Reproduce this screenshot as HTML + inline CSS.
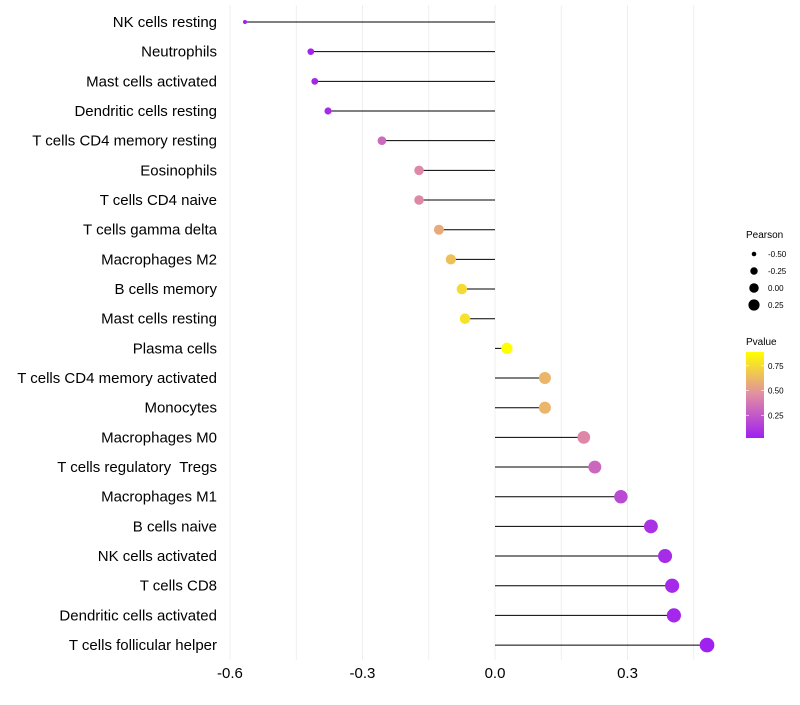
<!DOCTYPE html>
<html><head><meta charset="utf-8"><style>
body{margin:0;background:#fff;font-family:"Liberation Sans",sans-serif}
text{white-space:pre}
</style></head><body>
<svg id="c" width="800" height="700" xmlns="http://www.w3.org/2000/svg"></svg>
<script>
const categories=["NK cells resting","Neutrophils","Mast cells activated","Dendritic cells resting","T cells CD4 memory resting","Eosinophils","T cells CD4 naive","T cells gamma delta","Macrophages M2","B cells memory","Mast cells resting","Plasma cells","T cells CD4 memory activated","Monocytes","Macrophages M0","T cells regulatory  Tregs","Macrophages M1","B cells naive","NK cells activated","T cells CD8","Dendritic cells activated","T cells follicular helper"];
const pearson=[-0.566,-0.417,-0.408,-0.378,-0.256,-0.172,-0.172,-0.127,-0.100,-0.075,-0.068,0.027,0.113,0.113,0.201,0.226,0.285,0.353,0.385,0.401,0.405,0.480];
const pvalue=[0.02,0.05,0.06,0.08,0.33,0.45,0.45,0.58,0.66,0.76,0.79,0.9,0.62,0.62,0.45,0.32,0.2,0.1,0.08,0.07,0.06,0.03];
const xTicks=[-0.6,-0.3,0.0,0.3];
const xTickLabels=["-0.6","-0.3","0.0","0.3"];
const sizeLegend=[-0.5,-0.25,0,0.25];
const sizeLegendLabels=["-0.50","-0.25","0.00","0.25"];
const colorLegend=[0.75,0.5,0.25];
const colorLegendLabels=["0.75","0.50","0.25"];

const svg=document.getElementById('c');
const NS="http://www.w3.org/2000/svg";
function mk(t,a,p){const e=document.createElementNS(NS,t);for(const k in a)e.setAttribute(k,a[k]);(p||svg).appendChild(e);return e;}
const x=v=>495+v*441.7;
const y=i=>22+i*29.67;
const rad=v=>Math.sqrt(4+(v+0.566)/1.046*50);
function lerp(a,b,t){return a.map((c,i)=>Math.round(c+(b[i]-c)*t));}
function col(p){const t=Math.max(0,Math.min(1,(p-0.03)/0.87));
 const s=[[160,32,240],[224,140,165],[255,255,0]];
 const c=t<0.5?lerp(s[0],s[1],t*2):lerp(s[1],s[2],(t-0.5)*2);return `rgb(${c})`;}

[-0.6,-0.45,-0.3,-0.15,0,0.15,0.3,0.45].forEach(v=>{
 const g=mk('line',{x1:x(v),x2:x(v),y1:5,y2:660,stroke:'#ebebeb','stroke-width':0.8});
 
 
});
xTicks.forEach((v,i)=>{
 const t=mk('text',{x:x(v),y:678,'text-anchor':'middle','font-size':15,fill:'#000'});
 t.textContent=xTickLabels[i];
 
 
});
categories.forEach((c,i)=>{
 const t=mk('text',{x:217,y:y(i)+5,'text-anchor':'end','font-size':15,fill:'#000'});
 t.textContent=c;
 
 
 const l=mk('line',{x1:x(0),x2:x(pearson[i]),y1:y(i),y2:y(i),stroke:'#000','stroke-width':1});
 
 
 const d=mk('circle',{cx:x(pearson[i]),cy:y(i),r:rad(pearson[i]),fill:col(pvalue[i])});
 
 
});
const lt=mk('text',{x:746,y:238,'font-size':10});lt.textContent='Pearson';


sizeLegend.forEach((v,i)=>{
 const cy=254+i*17;
 const c=mk('circle',{cx:754,cy:cy,r:rad(v)*0.85,fill:'#000'});
 
 
 const t=mk('text',{x:768,y:cy+3,'font-size':8});t.textContent=sizeLegendLabels[i];
 
 
});
const ct=mk('text',{x:746,y:345,'font-size':10});ct.textContent='Pvalue';


const defs=mk('defs',{});
const gr=mk('linearGradient',{id:'gr',x1:0,y1:1,x2:0,y2:0},defs);
mk('stop',{offset:'0',  'stop-color':'rgb(160,32,240)'},gr);
mk('stop',{offset:'0.5','stop-color':'rgb(224,140,165)'},gr);
mk('stop',{offset:'1',  'stop-color':'rgb(255,255,0)'},gr);
const bar=mk('rect',{x:746,y:352,width:18,height:86,fill:'url(#gr)'});


colorLegend.forEach((v,i)=>{
 const yy=437-(v-0.03)/0.87*86;
 mk('line',{x1:746,x2:749,y1:yy,y2:yy,stroke:'#fff','stroke-width':0.6});
 mk('line',{x1:761,x2:764,y1:yy,y2:yy,stroke:'#fff','stroke-width':0.6});
 const t=mk('text',{x:768,y:yy+3,'font-size':8});t.textContent=colorLegendLabels[i];
 
 
});
</script>
</body></html>
